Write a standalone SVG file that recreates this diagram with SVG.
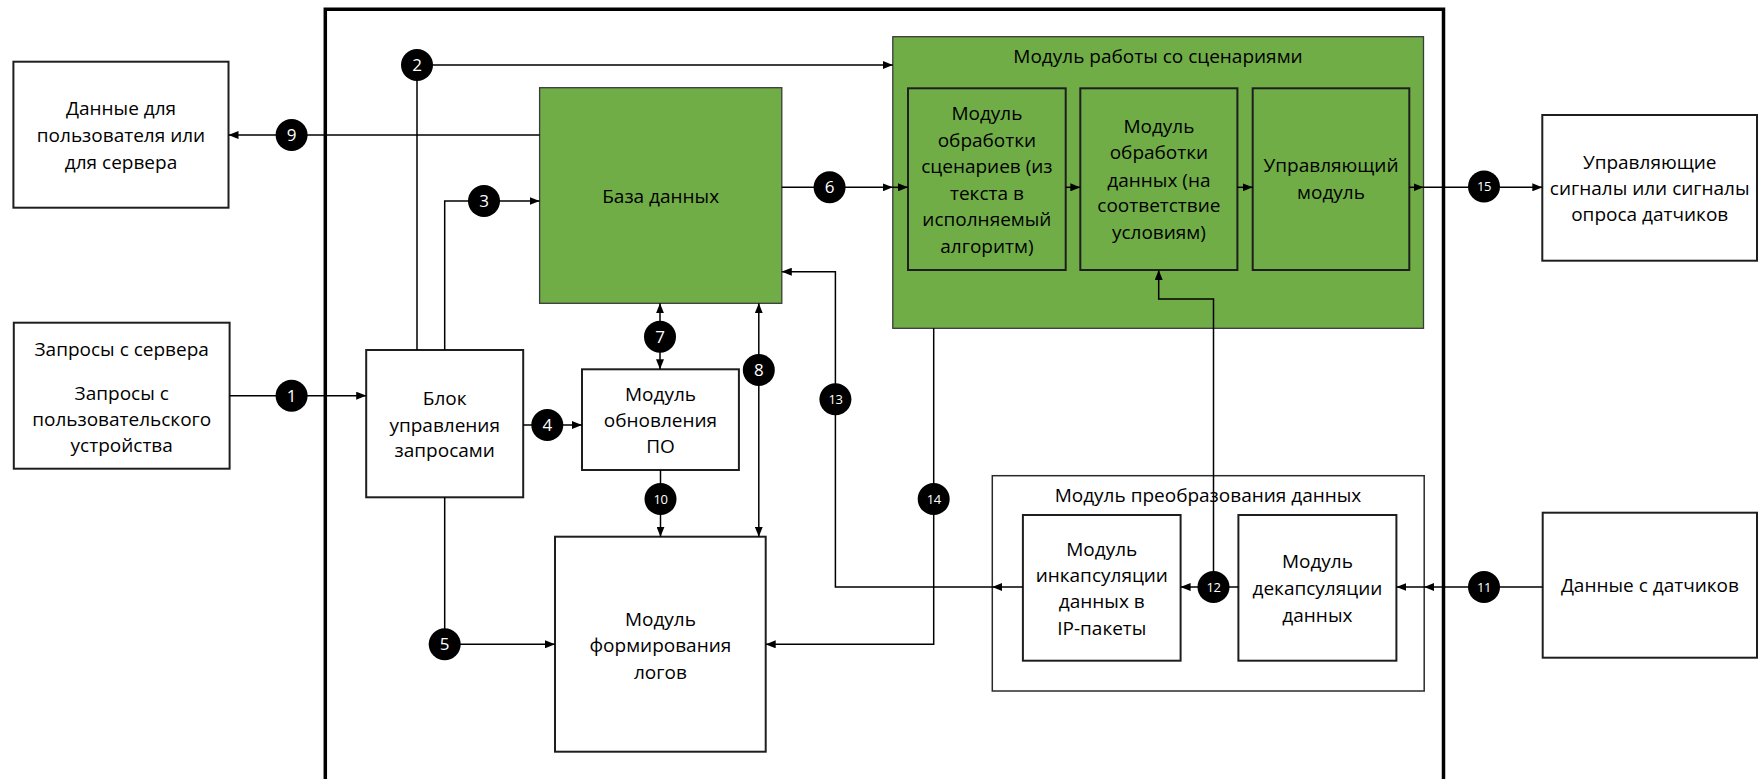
<svg xmlns="http://www.w3.org/2000/svg" width="1758" height="779" viewBox="0 0 1758 779">
<defs>
<marker id="ah" viewBox="0 0 10 8" refX="10" refY="4" markerWidth="10" markerHeight="8" markerUnits="userSpaceOnUse" orient="auto-start-reverse">
<path d="M0,0 L10,4 L0,8 z" fill="#000"/>
</marker>
</defs>
<style>
text{font-family:"Open Sans","Noto Sans","Liberation Sans",sans-serif;font-size:19px;fill:#000;text-anchor:middle}
.box{fill:#fff;stroke:#1e1e1e;stroke-width:2}
.gbox{fill:#70AD47;stroke:#1e1e1e;stroke-width:2}
.gouter{fill:#70AD47;stroke:#3a3a3a;stroke-width:1.3}
.outer{fill:#fff;stroke:#2a2a2a;stroke-width:1.5}
.frame{fill:none;stroke:#000;stroke-width:3.5}
.c{fill:none;stroke:#000;stroke-width:1.5}
.ar{marker-end:url(#ah)}
.ar2{marker-start:url(#ah);marker-end:url(#ah)}
.dot{fill:#000}
.n{fill:#fff;font-size:17px}
.n2{fill:#fff;font-size:13px;letter-spacing:-0.5px}
</style>
<path class="frame" d="M325.3 800 V9.3 H1443.5 V800"/>

<g id="data-out"><rect class="box" x="13.4" y="61.7" width="215.1" height="146"/>
<text x="121" y="114.8">Данные для</text><text x="121" y="141.5">пользователя или</text><text x="121" y="168.8">для сервера</text></g>

<g id="requests"><rect class="box" x="13.8" y="322.7" width="215.8" height="146"/>
<text x="121.7" y="355.5">Запросы с сервера</text><text x="121.7" y="399.5">Запросы с</text><text x="121.7" y="425.8">пользовательского</text><text x="121.7" y="452.2">устройства</text></g>

<g id="req-ctrl"><rect class="box" x="366.2" y="350" width="157" height="147.3"/>
<text x="444.7" y="404.8">Блок</text><text x="444.7" y="431.5">управления</text><text x="444.7" y="457.2">запросами</text></g>

<g id="db"><rect class="gouter" x="539.6" y="87.7" width="242.2" height="215.6"/>
<text x="660.7" y="203">База данных</text></g>

<g id="update"><rect class="box" x="582" y="369.3" width="156.9" height="100.7"/>
<text x="660.5" y="400.5">Модуль</text><text x="660.5" y="427.2">обновления</text><text x="660.5" y="453.2">ПО</text></g>

<g id="logs"><rect class="box" x="555" y="536.7" width="210.7" height="215"/>
<text x="660.4" y="625.5">Модуль</text><text x="660.4" y="652.2">формирования</text><text x="660.4" y="678.8">логов</text></g>

<g id="scenarios"><rect class="gouter" x="892.8" y="36.7" width="530.7" height="291.6"/>
<text x="1158" y="62.5">Модуль работы со сценариями</text></g>

<g id="sc-proc"><rect class="gbox" x="908" y="88.3" width="157.7" height="181.7"/>
<text x="986.9" y="119.8">Модуль</text><text x="986.9" y="146.5">обработки</text><text x="986.9" y="173.2">сценариев (из</text><text x="986.9" y="199.8">текста в</text><text x="986.9" y="225.8">исполняемый</text><text x="986.9" y="252.5">алгоритм)</text></g>

<g id="data-proc"><rect class="gbox" x="1080.3" y="88.3" width="157.1" height="181.7"/>
<text x="1158.9" y="132.5">Модуль</text><text x="1158.9" y="159.2">обработки</text><text x="1158.9" y="186.5">данных (на</text><text x="1158.9" y="212.2">соответствие</text><text x="1158.9" y="238.8">условиям)</text></g>

<g id="control"><rect class="gbox" x="1252.7" y="88.3" width="156.6" height="181.7"/>
<text x="1331" y="172.2">Управляющий</text><text x="1331" y="199.2">модуль</text></g>

<g id="signals"><rect class="box" x="1542.3" y="115" width="214.7" height="145.7"/>
<text x="1649.7" y="168.8">Управляющие</text><text x="1649.7" y="194.8">сигналы или сигналы</text><text x="1649.7" y="220.8">опроса датчиков</text></g>

<g id="convert"><rect class="outer" x="992.3" y="475.7" width="431.9" height="215.3"/>
<text x="1208" y="501.5">Модуль преобразования данных</text></g>

<g id="encap"><rect class="box" x="1022.9" y="515" width="157.7" height="145.7"/>
<text x="1101.8" y="555.8">Модуль</text><text x="1101.8" y="581.5">инкапсуляции</text><text x="1101.8" y="608.2">данных в</text><text x="1101.8" y="634.8">IP-пакеты</text></g>

<g id="decap"><rect class="box" x="1238.4" y="515" width="158" height="145.7"/>
<text x="1317.4" y="568.2">Модуль</text><text x="1317.4" y="594.8">декапсуляции</text><text x="1317.4" y="621.5">данных</text></g>

<g id="sensors"><rect class="box" x="1542.7" y="512.7" width="214.3" height="145"/>
<text x="1649.9" y="592.2">Данные с датчиков</text></g>

<g id="connectors">
<path class="c ar" d="M229.6 395.7 H366.2"/>
<path class="c ar" d="M417 350 V65 H892.8"/>
<path class="c ar" d="M444.7 350 V201 H539.6"/>
<path class="c ar" d="M523.2 425 H582"/>
<path class="c ar" d="M444.7 497.3 V644.3 H555"/>
<path class="c ar" d="M781.8 187.3 H892.8"/>
<path class="c ar" d="M892.8 187.3 H908"/>
<path class="c ar2" d="M660 303.3 V369.3"/>
<path class="c ar2" d="M758.8 303.3 V536.7"/>
<path class="c ar" d="M539.6 135 H228.5"/>
<path class="c ar" d="M660.5 470 V536.7"/>
<path class="c ar" d="M1542.7 587 H1424.2"/>
<path class="c ar" d="M1424.2 587 H1396.4"/>
<path class="c ar" d="M1238.4 587 H1180.6"/>
<path class="c ar" d="M1213.5 587 V299 H1158.7 V270"/>
<path class="c ar" d="M1022.9 587 H992.3"/>
<path class="c ar" d="M992.3 587 H835.4 V271.7 H781.8"/>
<path class="c ar" d="M933.7 328.3 V644.3 H765.7"/>
<path class="c ar" d="M1065.7 187.3 H1080.3"/>
<path class="c ar" d="M1237.4 187.3 H1252.7"/>
<path class="c ar" d="M1409.3 187.3 H1423.5"/>
<path class="c ar" d="M1423.5 187.3 H1542.3"/>

<circle class="dot" cx="291.6" cy="395.7" r="16"/><text class="n" x="291.6" y="401.7">1</text>
<circle class="dot" cx="417" cy="65" r="16"/><text class="n" x="417" y="71">2</text>
<circle class="dot" cx="484" cy="201" r="16"/><text class="n" x="484" y="207">3</text>
<circle class="dot" cx="547.3" cy="425" r="16"/><text class="n" x="547.3" y="431">4</text>
<circle class="dot" cx="444.7" cy="644.3" r="16"/><text class="n" x="444.7" y="650.3">5</text>
<circle class="dot" cx="829.6" cy="187.3" r="16"/><text class="n" x="829.6" y="193.3">6</text>
<circle class="dot" cx="660" cy="336.7" r="16"/><text class="n" x="660" y="342.7">7</text>
<circle class="dot" cx="758.8" cy="370" r="16"/><text class="n" x="758.8" y="376">8</text>
<circle class="dot" cx="291.6" cy="135" r="16"/><text class="n" x="291.6" y="141">9</text>
<circle class="dot" cx="660.5" cy="499" r="16"/><text class="n2" x="660.5" y="503.5">10</text>
<circle class="dot" cx="1484" cy="587" r="16"/><text class="n2" x="1484" y="591.5">11</text>
<circle class="dot" cx="1213.5" cy="587" r="16"/><text class="n2" x="1213.5" y="591.5">12</text>
<circle class="dot" cx="835.4" cy="399.3" r="16"/><text class="n2" x="835.4" y="403.8">13</text>
<circle class="dot" cx="933.7" cy="499" r="16"/><text class="n2" x="933.7" y="503.5">14</text>
<circle class="dot" cx="1484" cy="186.5" r="16"/><text class="n2" x="1484" y="191">15</text>
</g>
</svg>
